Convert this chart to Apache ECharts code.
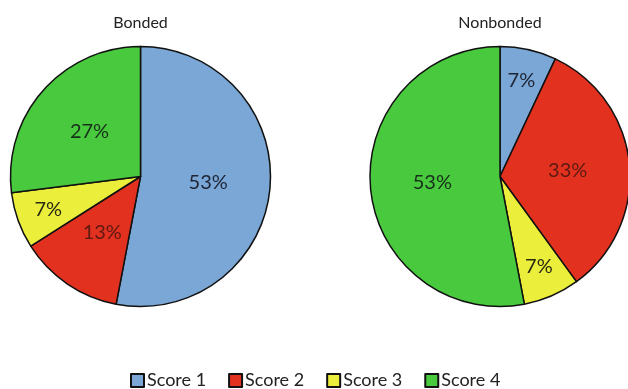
<!DOCTYPE html>
<html>
<head>
<meta charset="utf-8">
<script src="https://cdn.jsdelivr.net/npm/echarts@6/dist/echarts.min.js"></script>
<style>
  html, body { margin: 0; padding: 0; background: #fff; }
  #chart { width: 628px; height: 389px; }
</style>
</head>
<body>
<div id="chart"></div>
<script>
// Score distribution (percent of specimens) for each group
const categories = ['Score 1', 'Score 2', 'Score 3', 'Score 4'];
const bondedValues = [53, 13, 7, 27];
const nonbondedValues = [7, 33, 7, 53];
const groupTitles = ['Bonded', 'Nonbonded'];

const sliceColors = ['#7aa7d6', '#e2311f', '#ebef3b', '#49c93d'];
const labelColors = ['#1e2433', '#5e1a12', '#2a2a12', '#16301a'];

const PIE_RADIUS = 130;
// narrow slices get their label pushed further out along the slice bisector
const SMALL_SLICE = 10;
const LABEL_PUSH = 30;

function buildData(values) {
  const total = values.reduce((a, b) => a + b, 0);
  let acc = 0;
  return categories.map((name, i) => {
    const mid = (acc + values[i] / 2) / total * Math.PI * 2; // clockwise from 12 o'clock
    acc += values[i];
    const label = { color: labelColors[i] };
    if (values[i] < SMALL_SLICE) {
      label.offset = [LABEL_PUSH * Math.sin(mid), -LABEL_PUSH * Math.cos(mid)];
    }
    return { name, value: values[i], itemStyle: { color: sliceColors[i] }, label };
  });
}

function pieSeries(values, cx) {
  return {
    type: 'pie',
    center: [cx, 176.5],
    radius: PIE_RADIUS,
    startAngle: 90,
    clockwise: true,
    animation: false,
    silent: true,
    itemStyle: { borderColor: '#111', borderWidth: 1.5 },
    label: {
      show: true,
      position: 'inside',
      formatter: '{c}%',
      fontFamily: 'Lato',
      fontSize: 20
    },
    labelLine: { show: false },
    emphasis: { disabled: true },
    data: buildData(values)
  };
}

const titleStyle = { fontFamily: 'Lato', fontSize: 16, fontWeight: 'normal', color: '#222' };

const chart = echarts.init(document.getElementById('chart'), null, { renderer: 'canvas' });
chart.setOption({
  backgroundColor: '#ffffff',
  title: [
    { text: groupTitles[0], left: 140.5, top: 15, padding: 0, textAlign: 'center', textStyle: titleStyle },
    { text: groupTitles[1], left: 500, top: 15, padding: 0, textAlign: 'center', textStyle: titleStyle }
  ],
  legend: {
    data: categories,
    top: 371.5,
    left: 130,
    padding: 0,
    icon: 'rect',
    itemWidth: 13,
    itemHeight: 13,
    itemGap: 22,
    textStyle: { fontFamily: 'Lato', fontSize: 18, color: '#222', padding: [0, 0, 0, -2] },
    selectedMode: false
  },
  series: [
    pieSeries(bondedValues, 140.5),
    pieSeries(nonbondedValues, 500)
  ]
});
</script>
</body>
</html>
